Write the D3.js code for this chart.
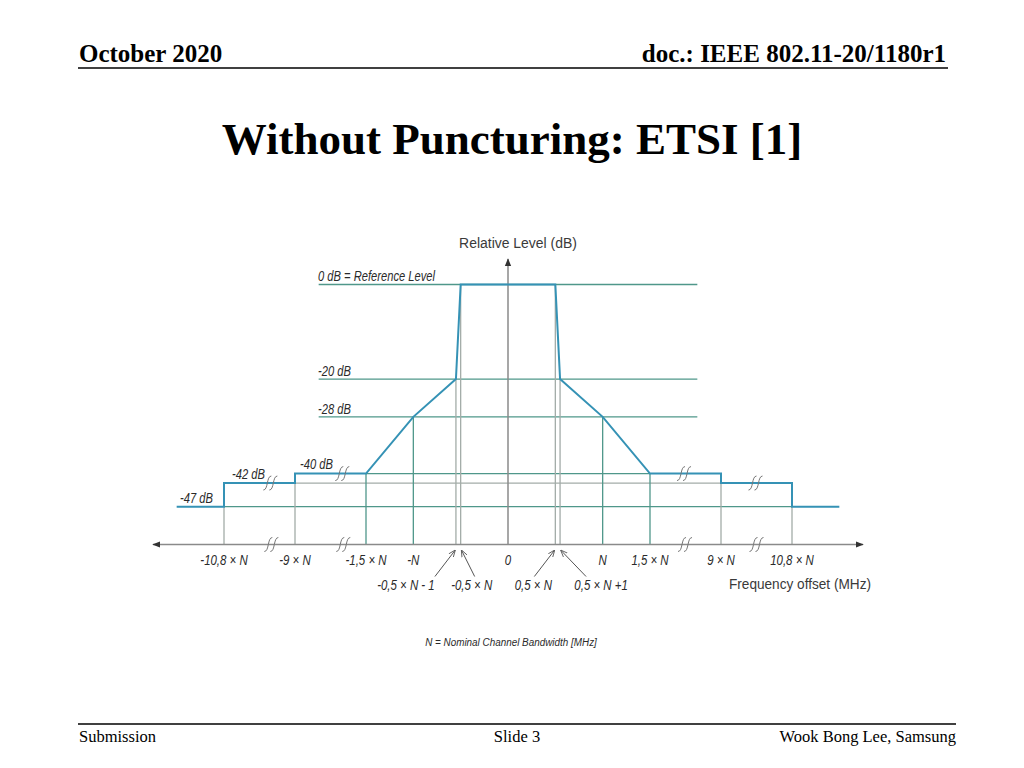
<!DOCTYPE html>
<html>
<head>
<meta charset="utf-8">
<script src="https://cdn.jsdelivr.net/npm/d3@7"></script>
<style>
  body { margin: 0; background: #fff; }
  svg { display: block; }
  .serif { font-family: "Liberation Serif", "Times New Roman", serif; }
  .lbl { font-family: "Liberation Sans", Arial, sans-serif; font-style: italic; fill: #2a2a2a; }
  .ax { font-family: "Liberation Sans", Arial, sans-serif; fill: #3a3a3a; }
</style>
</head>
<body>
<svg id="chart" width="1024" height="768"></svg>
<script>
// spectrum mask, x in units of N (the +/-1 MHz points estimated as 0.05 N), y in dB
var maskX  = [-12, -10.8, -10.8, -9, -9, -1.5, -1, -0.55, -0.5, 0.5, 0.55, 1, 1.5, 9, 9, 10.8, 10.8, 12];
var maskDb = [-47, -47, -42, -42, -40, -40, -28, -20, 0, 0, -20, -28, -40, -40, -42, -42, -47, -47];

// horizontal reference levels and how far they reach
var levelDb   = [0, -20, -28, -40, -42, -47];
var levelFrom = [-6.5, -6.5, -6.5, -1.5, -9, -10.8];
var levelTo   = [6.5, 6.5, 6.5, 1.5, 9, 10.8];
var levelText = ["0 dB = Reference Level", "-20 dB", "-28 dB", "-40 dB", "-42 dB", "-47 dB"];
var levelGrey = [false, false, false, false, true, false];

// vertical drop lines: frequency and the level they start from
var dropX  = [-10.8, -9, -1.5, -1, -0.55, -0.5, 0.5, 0.55, 1, 1.5, 9, 10.8];
var dropDb = [-47, -42, -40, -28, -20, 0, 0, -20, -28, -40, -42, -47];
var dropGrey = [true, true, false, false, true, true, true, true, false, false, true, true];

// tick labels
var tickX     = [-10.8, -9, -1.5, -1, 0, 1, 1.5, 9, 10.8];
var tickLabel = ["-10,8 \u00d7 N", "-9 \u00d7 N", "-1,5 \u00d7 N", "-N", "0", "N", "1,5 \u00d7 N", "9 \u00d7 N", "10,8 \u00d7 N"];
var subX      = [-0.55, -0.5, 0.5, 0.55];
var subLabel  = ["-0,5 \u00d7 N - 1", "-0,5 \u00d7 N", "0,5 \u00d7 N", "0,5 \u00d7 N +1"];

// axis breaks and the mask level each one cuts
var breakX  = [-9.6, -3.9, 5.2, 9.9];
var breakDb = [-42, -40, -40, -42];

var svg = d3.select("#chart");

// ---- slide frame ----
svg.append("text").attr("class", "serif").attr("x", 79).attr("y", 62)
  .attr("font-size", 25).attr("font-weight", "bold").text("October 2020");
svg.append("text").attr("class", "serif").attr("x", 946).attr("y", 62)
  .attr("text-anchor", "end").attr("font-size", 25).attr("font-weight", "bold")
  .text("doc.: IEEE 802.11-20/1180r1");
svg.append("line").attr("x1", 78).attr("x2", 948).attr("y1", 68).attr("y2", 68)
  .attr("stroke", "#000").attr("stroke-width", 1.5);

svg.append("text").attr("class", "serif").attr("x", 512).attr("y", 154)
  .attr("text-anchor", "middle").attr("font-size", 45).attr("font-weight", "bold")
  .text("Without Puncturing: ETSI [1]");

svg.append("line").attr("x1", 78).attr("x2", 956).attr("y1", 724).attr("y2", 724)
  .attr("stroke", "#000").attr("stroke-width", 1.5);
svg.append("text").attr("class", "serif").attr("x", 79).attr("y", 742).attr("font-size", 16.5).text("Submission");
svg.append("text").attr("class", "serif").attr("x", 517).attr("y", 742).attr("font-size", 16.5)
  .attr("text-anchor", "middle").text("Slide 3");
svg.append("text").attr("class", "serif").attr("x", 956).attr("y", 742).attr("font-size", 16.5)
  .attr("text-anchor", "end").text("Wook Bong Lee, Samsung");

// ---- scales ----
// piecewise x scale to mimic the broken frequency axis
var x = d3.scaleLinear()
  .domain([-12.6, -10.8, -9, -1.5, 1.5, 9, 10.8, 12.6])
  .range([153, 224, 295, 366, 650, 721, 792, 863]);
var y = d3.scaleLinear().domain([0, -55]).range([284.5, 544.5]);

var green = "#4f978a", grey = "#a3aca8", axisCol = "#8a8a8a", maskCol = "#3592b5";

var g = svg.append("g");

// condensed text: the original uses a narrow sans, so squeeze horizontally
function addText(cls, px, py, str, size, anchor, sx) {
  return g.append("text").attr("class", cls)
    .attr("transform", "translate(" + px + "," + py + ") scale(" + sx + ",1)")
    .attr("font-size", size).attr("text-anchor", anchor || "start").text(str);
}

// reference levels
levelDb.forEach(function(d, i) {
  g.append("line")
    .attr("x1", x(levelFrom[i])).attr("x2", x(levelTo[i]))
    .attr("y1", y(d)).attr("y2", y(d))
    .attr("stroke", levelGrey[i] ? grey : green).attr("stroke-width", 1.3);
});

// drop lines
dropX.forEach(function(d, i) {
  g.append("line")
    .attr("x1", x(d)).attr("x2", x(d))
    .attr("y1", y(dropDb[i])).attr("y2", y(-55))
    .attr("stroke", dropGrey[i] ? grey : green).attr("stroke-width", 1.3);
});

// axes with arrows
var defs = svg.append("defs");
defs.append("marker").attr("id", "arr").attr("viewBox", "0 0 10 10")
  .attr("refX", 9).attr("refY", 5).attr("markerWidth", 8).attr("markerHeight", 8)
  .attr("markerUnits", "userSpaceOnUse").attr("orient", "auto-start-reverse")
  .append("path").attr("d", "M0,1 L10,5 L0,9 Z").attr("fill", "#333");
defs.append("marker").attr("id", "thin").attr("viewBox", "0 0 10 10")
  .attr("refX", 9).attr("refY", 5).attr("markerWidth", 7).attr("markerHeight", 7)
  .attr("markerUnits", "userSpaceOnUse").attr("orient", "auto")
  .append("path").attr("d", "M0,1 L10,5 L0,9").attr("fill", "none").attr("stroke", "#555").attr("stroke-width", 1.2);

g.append("line").attr("x1", x(-12.6)).attr("x2", x(12.6)).attr("y1", y(-55)).attr("y2", y(-55))
  .attr("stroke", axisCol).attr("stroke-width", 1.5)
  .attr("marker-start", "url(#arr)").attr("marker-end", "url(#arr)");
g.append("line").attr("x1", x(0)).attr("x2", x(0)).attr("y1", y(-55)).attr("y2", y(5.4))
  .attr("stroke", axisCol).attr("stroke-width", 1.5).attr("marker-end", "url(#arr)");

// mask line
var mask = maskX.map(function(d, i) { return [d, maskDb[i]]; });
g.append("path")
  .datum(mask)
  .attr("d", d3.line().x(function(d) { return x(d[0]); }).y(function(d) { return y(d[1]); }))
  .attr("fill", "none").attr("stroke", maskCol).attr("stroke-width", 2);

// break marks on the axis and on the mask
function breakMark(cx, cy) {
  [-3, 3].forEach(function(o) {
    var px = cx + o;
    g.append("path")
      .attr("d", "M" + (px - 4) + "," + (cy + 7) + " C" + (px + 1) + "," + (cy + 7) + " " + (px - 1) + "," + (cy - 7) + " " + (px + 4) + "," + (cy - 7))
      .attr("fill", "none").attr("stroke", "#777").attr("stroke-width", 1);
  });
}
breakX.forEach(function(d, i) {
  breakMark(x(d), y(-55));
  breakMark(x(d) - 1, y(breakDb[i]));
});

// level labels
var labelPos = {"0 dB = Reference Level": [318, 281], "-20 dB": [318, 376], "-28 dB": [318, 414],
  "-40 dB": [300, 469], "-42 dB": [232, 479], "-47 dB": [180, 503]};
levelText.forEach(function(t) {
  addText("lbl", labelPos[t][0], labelPos[t][1], t, 14.5, "start", 0.77);
});

// tick labels
tickX.forEach(function(d, i) {
  addText("lbl", x(d), y(-55) + 20, tickLabel[i], 14.5, "middle", 0.79);
});

// sub labels with arrows
var subShift = [-50, 11, -22, 41];
var tailShift = [-21, 14, -21, 26];
subX.forEach(function(d, i) {
  addText("lbl", x(d) + subShift[i], y(-55) + 45, subLabel[i], 14.5, "middle", 0.79);
  g.append("line").attr("x1", x(d) + tailShift[i]).attr("y1", y(-55) + 32)
    .attr("x2", x(d) + (i % 2 === 0 ? -1 : 1)).attr("y2", y(-55) + 6)
    .attr("stroke", "#555").attr("stroke-width", 1).attr("marker-end", "url(#thin)");
});

// axis titles
addText("ax", 518, 248, "Relative Level (dB)", 15.5, "middle", 0.9);
addText("ax", 871, 589, "Frequency offset (MHz)", 15.5, "end", 0.88);
addText("lbl", 511, 646, "N = Nominal Channel Bandwidth [MHz]", 11.5, "middle", 0.86);
</script>
</body>
</html>
